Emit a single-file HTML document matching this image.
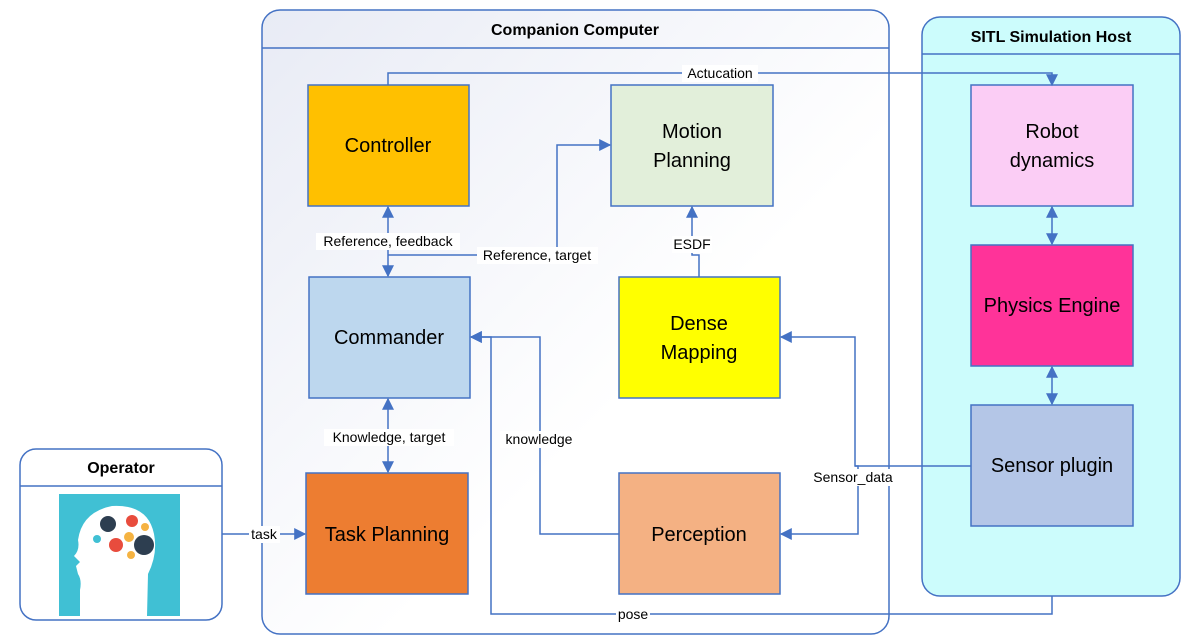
<!DOCTYPE html>
<html><head><meta charset="utf-8"><style>
html,body{margin:0;padding:0;background:#fff;}
svg{display:block;font-family:"Liberation Sans","DejaVu Sans",sans-serif;}
</style></head><body>
<svg width="1189" height="641" viewBox="0 0 1189 641" xmlns="http://www.w3.org/2000/svg">
<defs>
<linearGradient id="g1" x1="0" y1="0" x2="1" y2="1">
<stop offset="0" stop-color="#e8ebf5"/><stop offset="0.6" stop-color="#ffffff"/></linearGradient>
<marker id="a" viewBox="0 0 10 10" refX="9" refY="5" markerWidth="13" markerHeight="12" orient="auto-start-reverse" markerUnits="userSpaceOnUse">
<path d="M0,0 L10,5 L0,10 z" fill="#4472c4"/></marker>
</defs>
<rect x="262" y="10" width="627" height="624" rx="18" fill="url(#g1)" stroke="#4472c4" stroke-width="1.5"/>
<line x1="262" y1="48" x2="889" y2="48" stroke="#4472c4" stroke-width="1.5"/>
<text x="575" y="35" font-size="16" font-weight="bold" text-anchor="middle">Companion Computer</text>
<rect x="922" y="17" width="258" height="579" rx="18" fill="#ccfcfc" stroke="#4472c4" stroke-width="1.5"/>
<line x1="922" y1="54" x2="1180" y2="54" stroke="#4472c4" stroke-width="1.5"/>
<text x="1051" y="42" font-size="16" font-weight="bold" text-anchor="middle">SITL Simulation Host</text>
<rect x="20" y="449" width="202" height="171" rx="16" fill="#fff" stroke="#4472c4" stroke-width="1.5"/>
<line x1="20" y1="486" x2="222" y2="486" stroke="#4472c4" stroke-width="1.5"/>
<text x="121" y="473" font-size="16" font-weight="bold" text-anchor="middle">Operator</text>
<rect x="59" y="494" width="121" height="122" fill="#40c0d4"/>
<path d="M80,616 L80,590 Q82,580 78,574 L76,566 L80,562 L74,556 Q80,550 78,540 Q82,512 112,506 Q148,504 154,534 Q158,554 148,574 L147,616 Z" fill="#fff"/>
<circle cx="108" cy="524" r="8" fill="#2d3e50"/><circle cx="132" cy="521" r="6" fill="#e84c3d"/>
<circle cx="116" cy="545" r="7" fill="#e84c3d"/><circle cx="144" cy="545" r="10" fill="#2d3e50"/>
<circle cx="129" cy="537" r="5" fill="#f5b342"/><circle cx="97" cy="539" r="4" fill="#40c0d4"/>
<circle cx="145" cy="527" r="4" fill="#f5b342"/><circle cx="131" cy="555" r="4" fill="#f5b342"/>
<g stroke="#4472c4" stroke-width="1.5">
<rect x="308" y="85" width="161" height="121" fill="#ffc000"/>
<rect x="611" y="85" width="162" height="121" fill="#e2efda"/>
<rect x="309" y="277" width="161" height="121" fill="#bdd7ee"/>
<rect x="619" y="277" width="161" height="121" fill="#ffff00"/>
<rect x="306" y="473" width="162" height="121" fill="#ed7d31"/>
<rect x="619" y="473" width="161" height="121" fill="#f4b183"/>
<rect x="971" y="85" width="162" height="121" fill="#fbcdf5"/>
<rect x="971" y="245" width="162" height="121" fill="#ff3399"/>
<rect x="971" y="405" width="162" height="121" fill="#b4c6e7"/>
</g>
<g font-size="20" text-anchor="middle" fill="#000">
<text x="388" y="152">Controller</text>
<text x="692" y="138">Motion</text><text x="692" y="167">Planning</text>
<text x="389" y="344">Commander</text>
<text x="699" y="330">Dense</text><text x="699" y="359">Mapping</text>
<text x="387" y="541">Task Planning</text>
<text x="699" y="541">Perception</text>
<text x="1052" y="138">Robot</text><text x="1052" y="167">dynamics</text>
<text x="1052" y="312">Physics Engine</text>
<text x="1052" y="472">Sensor plugin</text>
</g>
<g fill="none" stroke="#4472c4" stroke-width="1.5">
<polyline points="388,85 388,73 1052,73 1052,85" marker-end="url(#a)"/>
<line x1="388" y1="207" x2="388" y2="276" marker-start="url(#a)" marker-end="url(#a)"/>
<polyline points="388,255 557,255 557,145 610,145" marker-end="url(#a)"/>
<polyline points="699,277 699,255 692,255 692,207" marker-end="url(#a)"/>
<line x1="388" y1="399" x2="388" y2="472" marker-start="url(#a)" marker-end="url(#a)"/>
<polyline points="619,534 540,534 540,337 471,337" marker-end="url(#a)"/>
<polyline points="971,466 855,466 855,337 781,337" marker-end="url(#a)"/>
<polyline points="855,466 858,466 858,534 781,534" marker-end="url(#a)"/>
<polyline points="1052,596 1052,614 491,614 491,337 471,337" marker-end="url(#a)"/>
<line x1="222" y1="534" x2="305" y2="534" marker-end="url(#a)"/>
<line x1="1052" y1="207" x2="1052" y2="244" marker-start="url(#a)" marker-end="url(#a)"/>
<line x1="1052" y1="367" x2="1052" y2="404" marker-start="url(#a)" marker-end="url(#a)"/>
</g>
<g font-size="14" text-anchor="middle">
<rect x="682" y="65" width="76" height="17" fill="#fff"/><text x="720" y="78">Actucation</text>
<rect x="316" y="233" width="144" height="17" fill="#fff"/><text x="388" y="246">Reference, feedback</text>
<rect x="477" y="247" width="121" height="17" fill="#fff"/><text x="537" y="260">Reference, target</text>
<rect x="672" y="236" width="40" height="17" fill="#fff"/><text x="692" y="249">ESDF</text>
<rect x="324" y="429" width="130" height="17" fill="#fff"/><text x="389" y="442">Knowledge, target</text>
<rect x="500" y="431" width="78" height="17" fill="#fff"/><text x="539" y="444">knowledge</text>
<rect x="809" y="469" width="88" height="17" fill="#fff"/><text x="853" y="482">Sensor_data</text>
<rect x="616" y="606" width="34" height="17" fill="#fff"/><text x="633" y="619">pose</text>
<rect x="249" y="526" width="31" height="17" fill="#fff"/><text x="264" y="539">task</text>
</g>
</svg>
</body></html>
